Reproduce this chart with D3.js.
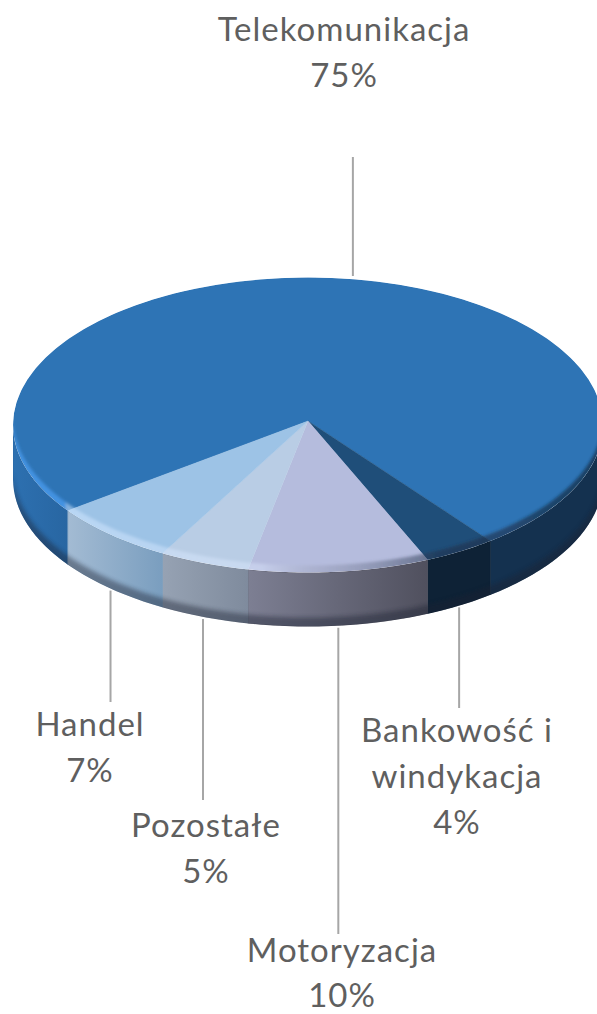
<!DOCTYPE html>
<html><head><meta charset="utf-8">
<script src="https://cdn.jsdelivr.net/npm/d3@7"></script>
<style>html,body{margin:0;background:#fff;overflow:hidden}svg{display:block}text{font-family:Lato,"Open Sans",sans-serif;fill:#5f5f5f;font-size:33px;letter-spacing:1px}</style>
</head><body><svg id="c" width="597" height="1014"></svg>
<script>
(function(){
const categories=["Telekomunikacja","Bankowość i windykacja","Motoryzacja","Pozostałe","Handel"];
const values=[75,4,10,5,7];
const labelLines=[["Telekomunikacja"],["Bankowość i","windykacja"],["Motoryzacja"],["Pozostałe"],["Handel"]];
const topColors=["#2e74b5","#1f4e79","#b5bcdd","#b9cde5","#9dc3e6"];
const sideLeft=["#2a6cab","#0e2236","#7d7f93","#96a2b3","#a3bbd3"];
const sideRight=["#14314f","#0e2236","#50505e","#7f8b9d","#7a9ebf"];
const labelX=[344,457,342,206,90];
const labelY=[41,742,962,837,736];
const labelGap=[46,46,45,46,46];
const leaderEnd=[157,708,934,800,702];
const leaderShift=[3,-1,-1,-1,0];

const W=597,H=1014,cx=308,cy=425,rx=295,ry=147.5,depth=54;
const svg=d3.select("#c");
const defs=svg.append("defs");
const sx=d3.scaleLinear().domain([-1,1]).range([cx-rx,cx+rx]);
const sy=d3.scaleLinear().domain([-1,1]).range([cy-ry,cy+ry]);
const px=a=>sx(Math.sin(a)), py=a=>sy(-Math.cos(a));
const rad=d=>d*Math.PI/180;
const pie=d3.pie().sort(null).value(d=>d).startAngle(rad(234.5)).endAngle(rad(234.5+360));
const arcs=pie(values).map((d,i)=>({...d,i}));
const line=d3.line();
const samples=(a,b,n=80)=>d3.range(n+1).map(k=>a+(b-a)*k/n);
const edge=(a,b,dy=0)=>samples(a,b).map(t=>[px(t),py(t)+dy]);
const closeP=pts=>line(pts)+"Z";

defs.append("filter").attr("id","b2").attr("x","-5%").attr("y","-20%").attr("width","110%").attr("height","140%").append("feGaussianBlur").attr("stdDeviation",1.6);
defs.append("filter").attr("id","b3").attr("x","-5%").attr("y","-20%").attr("width","110%").attr("height","140%").append("feGaussianBlur").attr("stdDeviation",2.2);
const whole=closeP(edge(0,2*Math.PI));
defs.append("clipPath").attr("id","topClip").append("path").attr("d",whole);

const F0=Math.PI/2,F1=1.5*Math.PI;
const wallPieces=[];
arcs.forEach(d=>{
  [[d.startAngle,d.endAngle],[d.startAngle-2*Math.PI,d.endAngle-2*Math.PI]].forEach(([a,b])=>{
    const s=Math.max(a,F0),e=Math.min(b,F1);
    if(e>s) wallPieces.push({i:d.i,s,e});
  });
});
const wall=svg.append("g");
defs.append("clipPath").attr("id","wallClip").append("path")
  .attr("d",closeP(edge(F0,F1).concat(edge(F1,F0,depth))));
wall.attr("clip-path","url(#wallClip)");
wallPieces.forEach((w,k)=>{
  const g=defs.append("linearGradient").attr("id","w"+k).attr("gradientUnits","userSpaceOnUse")
    .attr("x1",px(w.e)).attr("x2",px(w.s)).attr("y1",0).attr("y2",0);
  const left=px(w.e)<cx-100&&w.i===0;
  const c0=w.i===0?(left?"#2d70b0":"#14314f"):sideLeft[w.i];
  const c1=w.i===0?(left?"#2866a2":"#14314f"):sideRight[w.i];
  g.append("stop").attr("offset",0).attr("stop-color",c0);
  g.append("stop").attr("offset",1).attr("stop-color",c1);
  wall.append("path")
    .attr("d",closeP(edge(w.s,w.e).concat(edge(w.e,w.s,depth))))
    .attr("fill",`url(#w${k})`).attr("stroke",c1).attr("stroke-width",.6);
});
svg.append("g").attr("clip-path","url(#wallClip)").append("path")
  .attr("d",closeP(edge(F0,F1,depth+6).concat(edge(F1,F0,depth-9))))
  .attr("fill","#1c2230").attr("opacity",.42).attr("filter","url(#b3)");

const topFace=svg.append("g").attr("clip-path","url(#topClip)");
const apexY=-4;
arcs.forEach(d=>{
  topFace.append("path")
    .attr("d",closeP([[cx,cy+apexY],...edge(d.startAngle,d.endAngle)]))
    .attr("fill",topColors[d.i]).attr("stroke",topColors[d.i]).attr("stroke-width",.4);
});
const bev=defs.append("linearGradient").attr("id","bev").attr("gradientUnits","userSpaceOnUse")
  .attr("x1",cx-rx).attr("x2",cx+rx).attr("y1",0).attr("y2",0);
[[0,"#4a9cf0",.75],[.088,"#4a9cf0",.75],[.092,"#cfe6ff",.55],[.42,"#dfeaff",.4],[.52,"#8c90a8",.3],[.72,"#20304a",.55],[1,"#12263f",.7]]
 .forEach(([o,c,a])=>bev.append("stop").attr("offset",o).attr("stop-color",c).attr("stop-opacity",a));
topFace.append("path")
  .attr("d",closeP(edge(F0,F1,4).concat(edge(F1,F0,-7))))
  .attr("fill","url(#bev)").attr("filter","url(#b2)");

svg.append("g").selectAll("line").data(arcs).join("line")
  .attr("x1",d=>px((d.startAngle+d.endAngle)/2)+leaderShift[d.i]).attr("x2",d=>px((d.startAngle+d.endAngle)/2)+leaderShift[d.i])
  .attr("y1",d=>{const m=(d.startAngle+d.endAngle)/2;
     return d.i===0?py(m)-3:py(m)+depth+2;})
  .attr("y2",d=>leaderEnd[d.i])
  .attr("stroke","#a6a6a6").attr("stroke-width",2);

const lab=svg.append("g").selectAll("text").data(arcs).join("text")
  .attr("text-anchor","middle").attr("x",d=>labelX[d.i]).attr("y",d=>labelY[d.i]);
lab.each(function(d){
  const t=d3.select(this);
  labelLines[d.i].concat([d.value+"%"]).forEach((s,j)=>{
    t.append("tspan").attr("x",labelX[d.i]).attr("dy",j?labelGap[d.i]:0).text(s);
  });
});
})();
</script></body></html>
